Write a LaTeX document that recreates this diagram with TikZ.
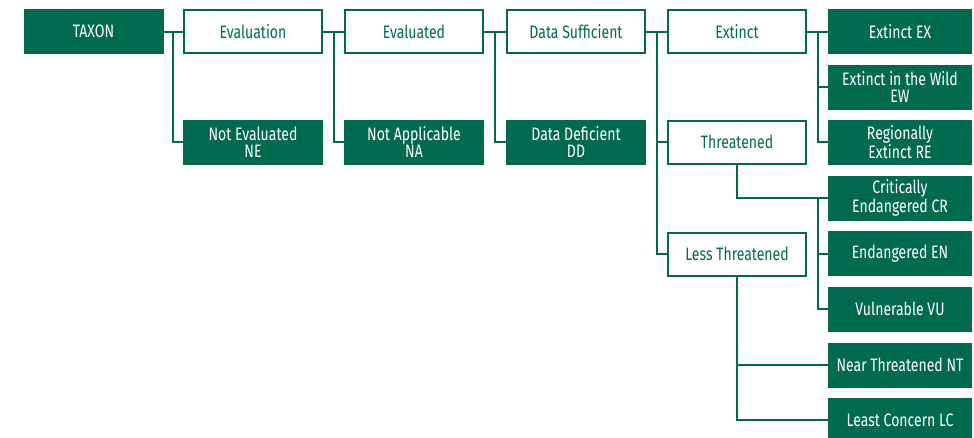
\documentclass[tikz,border=0pt]{standalone}
\usepackage{fontspec}
\setmainfont[FakeStretch=0.78]{Fira Sans}
\usepackage{tikz}
\usetikzlibrary{calc}
\definecolor{iucn}{RGB}{0,106,78}
\tikzset{-, font=\fontsize{18}{16.5}\selectfont}
\tikzset{cat/.style={shape=rectangle, draw=iucn, fill=iucn, text=white,
    align=center, inner sep=0pt, minimum width=138pt, minimum height=43pt},
  crit/.style={cat, fill=white, text=iucn},
  wide/.style={minimum width=142pt},
  link/.style={draw=iucn, line width=2pt}}

\begin{document}
\begin{tikzpicture}[x=1pt, y=-1pt, line width=2pt]
      \useasboundingbox (0,0) rectangle (974,437);
      \node[cat] (taxon) at (93.5,31.5) {TAXON};
      \node[crit] (eval) at (253,31.5) {Evaluation};
      \node[cat] (ne) at (253,142) {Not Evaluated\\NE};
      \node[crit] (evd) at (414,31.5) {Evaluated};
      \node[cat] (na) at (414,142) {Not Applicable\\NA};
      \node[crit] (suff) at (576,31.5) {Data Sufficient};
      \node[cat] (dd) at (576,142) {Data Deficient\\DD};
      \node[crit] (ext) at (737,31.5) {Extinct};
      \node[crit] (thr) at (737,142) {Threatened};
      \node[crit] (less) at (737,254) {Less Threatened};
      \node[cat, wide] (ex) at (900,31.5) {Extinct EX};
      \node[cat, wide] (ew) at (900,87) {Extinct in the Wild\\EW};
      \node[cat, wide] (re) at (900,142) {Regionally\\Extinct RE};
      \node[cat, wide] (cr) at (900,198) {Critically\\Endangered CR};
      \node[cat, wide] (en) at (900,253.5) {Endangered EN};
      \node[cat, wide] (vu) at (900,309) {Vulnerable VU};
      \node[cat, wide] (nt) at (900,365) {Near Threatened NT};
      \node[cat, wide] (lc) at (900,420) {Least Concern LC};
      % main line and the side branches
      \foreach \a/\b/\c in {taxon/eval/ne, eval/evd/na, evd/suff/dd,
        suff/ext/less, ext/ex/re} {
        \draw[link] (\a.east) -- (\b.west);
        \draw[link] ($(\a.east)!.5!(\b.west)$) |- (\c.west);
      }
      \coordinate (j) at ($(suff.east)!.5!(ext.west)$);
      \coordinate (k) at ($(ext.east)!.5!(ex.west)$);
      \draw[link] (j |- thr.west) -- (thr.west);
      \draw[link] (k |- ew.west) -- (ew.west);
      % threatened categories
      \draw[link] (thr.south) |- (cr.west);
      \draw[link] (k |- cr.west) |- (vu.west);
      \draw[link] (k |- en.west) -- (en.west);
      \draw[link] (less.south) |- (lc.west);
      \draw[link] (less.south |- nt.west) -- (nt.west);
    \end{tikzpicture}
\end{document}
